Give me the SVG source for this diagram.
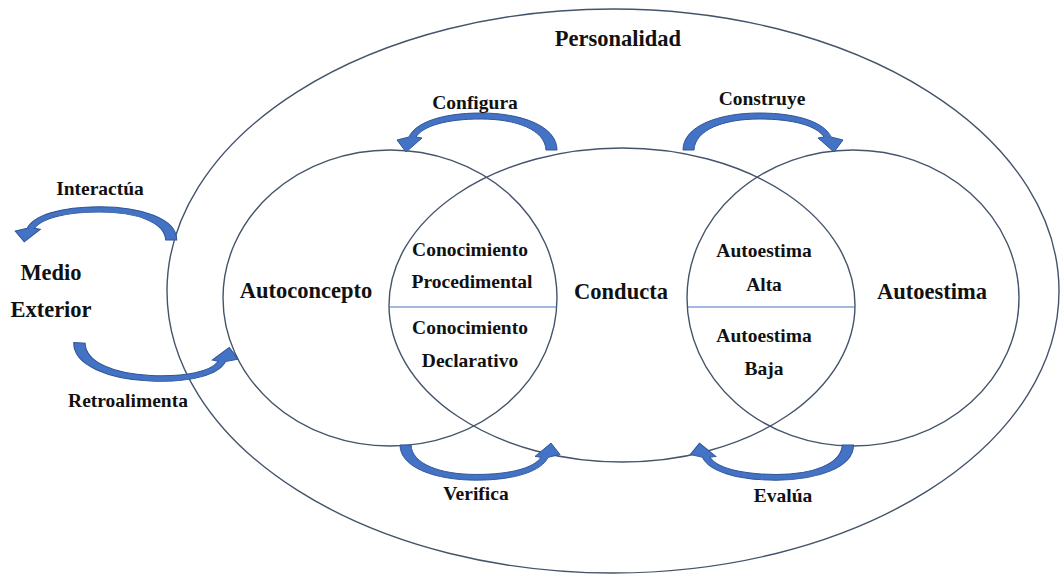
<svg xmlns="http://www.w3.org/2000/svg" xmlns:xlink="http://www.w3.org/1999/xlink" width="1060" height="576" viewBox="0 0 1060 576">
  <style>
    .ring { fill: none; stroke: #44546A; stroke-width: 1.4; }
    .divider { stroke: #4472C4; stroke-width: 1.2; }
    .big { font-family: "Liberation Serif", "Times New Roman", serif; font-weight: bold; font-size: 22.5px; fill: #111; text-anchor: middle; }
    .small { font-family: "Liberation Serif", "Times New Roman", serif; font-weight: bold; font-size: 19.5px; fill: #111; text-anchor: middle; }
    .bend { fill: #4472C4; stroke: #2F5597; stroke-width: 1; stroke-linejoin: miter; }
  </style>
  <defs>
    <!-- curved block arrow: tail at right, arc over the top, head pointing down at left -->
    <path id="curvedArrow" class="bend" d="M 76 0 C 76 -24 40 -37 0 -37 C -40 -37 -66 -27 -72 -13 L -84 -10 L -75 2 L -59 -12 L -65 -13 C -58 -24 -35 -31 0 -31 C 36 -31 64 -20 65 0 Z"/>
  </defs>

  <!-- enclosing ellipse -->
  <g id="personalidad">
    <ellipse class="ring" cx="613" cy="291" rx="446" ry="282"/>
    <text class="big" x="618" y="46">Personalidad</text>
  </g>

  <g id="autoconcepto">
    <ellipse class="ring" cx="390" cy="298" rx="167" ry="148"/>
    <text class="big" x="306" y="298">Autoconcepto</text>
  </g>

  <g id="conducta">
    <ellipse class="ring" cx="622" cy="305" rx="233" ry="157"/>
    <text class="big" x="621" y="299">Conducta</text>
  </g>

  <g id="autoestima">
    <ellipse class="ring" cx="853" cy="298" rx="166" ry="148"/>
    <text class="big" x="932" y="299">Autoestima</text>
  </g>

  <g id="medio-exterior">
    <text class="big" x="51" y="280">Medio</text>
    <text class="big" x="51" y="317">Exterior</text>
  </g>

  <!-- overlap between Autoconcepto and Conducta -->
  <g id="conocimiento">
    <line class="divider" x1="390" y1="307" x2="557" y2="307"/>
    <text class="small" x="470" y="256">Conocimiento</text>
    <text class="small" x="472" y="288">Procedimental</text>
    <text class="small" x="470" y="334">Conocimiento</text>
    <text class="small" x="470" y="367">Declarativo</text>
  </g>

  <!-- overlap between Conducta and Autoestima -->
  <g id="nivel-autoestima">
    <line class="divider" x1="688" y1="307" x2="855" y2="307"/>
    <text class="small" x="764" y="257">Autoestima</text>
    <text class="small" x="764" y="291">Alta</text>
    <text class="small" x="764" y="342">Autoestima</text>
    <text class="small" x="764" y="375">Baja</text>
  </g>

  <g id="connectors">
    <use xlink:href="#curvedArrow" transform="translate(481,150)"/>
    <use xlink:href="#curvedArrow" transform="translate(759,150) scale(-1,1)"/>
    <use xlink:href="#curvedArrow" transform="translate(100,240) scale(1.01,0.9)"/>
    <use xlink:href="#curvedArrow" transform="translate(152,346) rotate(182.5) scale(1.03,0.95)"/>
    <use xlink:href="#curvedArrow" transform="translate(476,445) rotate(180) scale(1,0.95)"/>
    <use xlink:href="#curvedArrow" transform="translate(776,445) scale(1.02,-0.95)"/>
    <text class="small" x="475" y="109">Configura</text>
    <text class="small" x="762" y="105">Construye</text>
    <text class="small" x="100" y="195">Interactúa</text>
    <text class="small" x="128" y="407">Retroalimenta</text>
    <text class="small" x="476" y="500">Verifica</text>
    <text class="small" x="783" y="502">Evalúa</text>
  </g>
</svg>
